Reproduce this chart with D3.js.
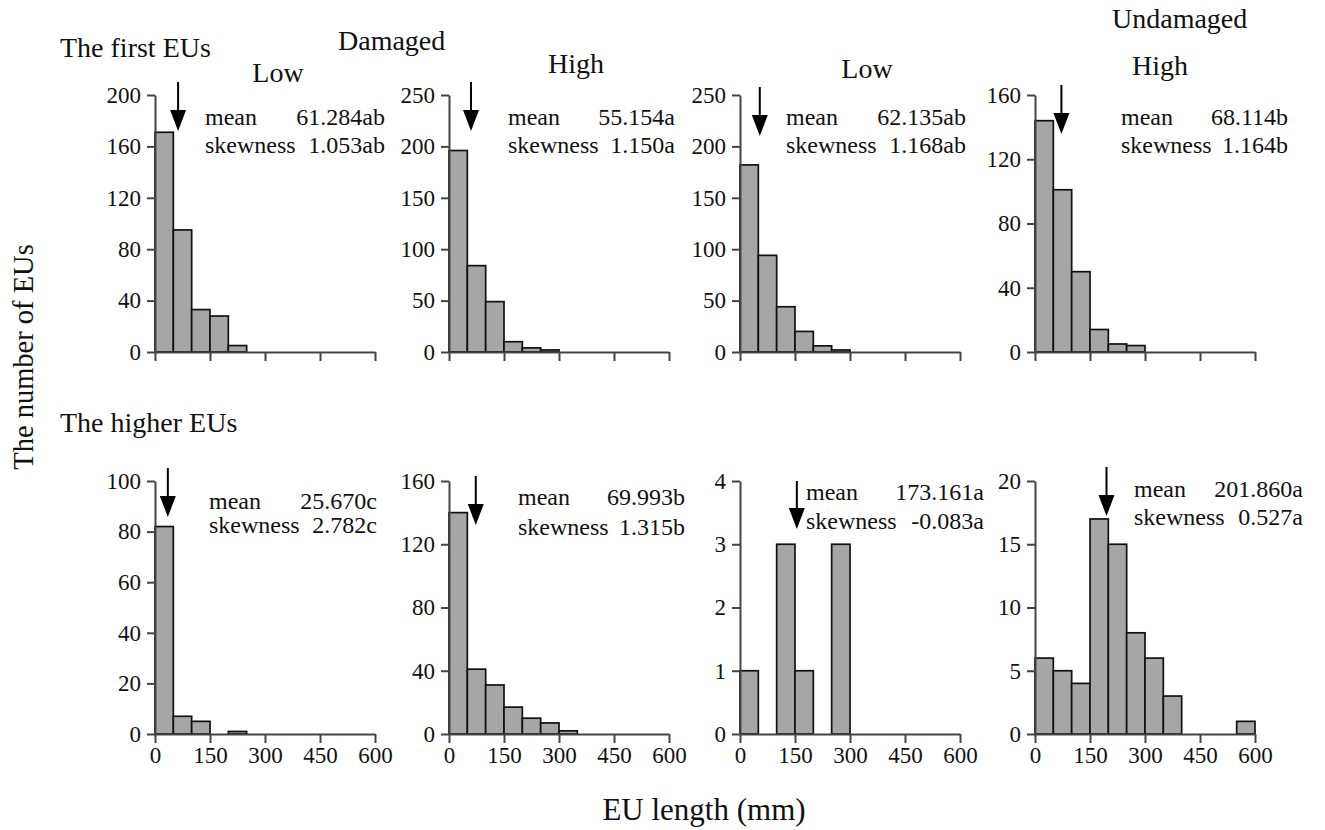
<!DOCTYPE html>
<html>
<head>
<meta charset="utf-8">
<script src="https://cdn.jsdelivr.net/npm/d3@7"></script>
<style>
  body { margin: 0; background: #fff; }
  text { font-family: "Liberation Serif", "Times New Roman", serif; fill: #111; }
</style>
</head>
<body>
<svg id="chart" width="1325" height="830"></svg>
<script>
// counts per 50 mm bin, starting at 0
var firstDamagedLow     = [171, 95, 33, 28, 5]
var firstDamagedHigh    = [196, 84, 49, 10, 4, 2]
var firstUndamagedLow   = [182, 94, 44, 20, 6, 2]
var firstUndamagedHigh  = [144, 101, 50, 14, 5, 4]
var higherDamagedLow    = [82, 7, 5, 0, 1]
var higherDamagedHigh   = [140, 41, 31, 17, 10, 7, 2]
var higherUndamagedLow  = [1, 0, 3, 1, 0, 3]
var higherUndamagedHigh = [6, 5, 4, 17, 15, 8, 6, 3, 0, 0, 0, 1]

var binWidth = 50
var xTicks = [0, 150, 300, 450, 600]
var yMax  = [200, 250, 250, 160, 100, 160, 4, 20]
var yStep = [40, 50, 50, 40, 20, 40, 1, 5]
var meanLabels = ["61.284ab", "55.154a", "62.135ab", "68.114b", "25.670c", "69.993b", "173.161a", "201.860a"]
var skewLabels = ["1.053ab", "1.150a", "1.168ab", "1.164b", "2.782c", "1.315b", "-0.083a", "0.527a"]
var arrowAt = [63, 60, 54, 72, 35, 73, 155, 195]

var series = [firstDamagedLow, firstDamagedHigh, firstUndamagedLow, firstUndamagedHigh,
              higherDamagedLow, higherDamagedHigh, higherUndamagedLow, higherUndamagedHigh]

// layout of each small panel (pixels)
var colX = [155, 449, 740, 1035]
var plotW = 220
var rows = [{top: 95, bottom: 352, labels: false}, {top: 481, bottom: 734, labels: true}]
var textOff = [[50, 230], [59, 226], [46, 226], [86, 253], [54, 222], [69, 236], [66, 244], [99, 268]]
var textY = [[125, 153], [125, 153], [125, 153], [125, 153], [509, 533], [505, 535], [500, 529], [497, 525]]
var arrowY = [[82, 131], [82, 131], [87, 136], [85, 134], [468, 517], [476, 525], [481, 529], [467, 516]]

var svg = d3.select("#chart")

var drawPanel = function(i)
{
    var row = rows[Math.floor(i / 4)]
    var x0 = colX[i % 4]
    var data = series[i]

    var x = d3.scaleLinear().domain([0, 600]).range([x0, x0 + plotW])
    var y = d3.scaleLinear().domain([0, yMax[i]]).range([row.bottom, row.top])

    var g = svg.append("g")

    g.selectAll("rect")
        .data(data)
        .enter()
        .append("rect")
        .attr("x", function(d, k) { return x(k * binWidth) })
        .attr("y", function(d) { return y(d) })
        .attr("width", function(d, k) { return x((k + 1) * binWidth) - x(k * binWidth) })
        .attr("height", function(d) { return y(0) - y(d) })
        .attr("fill", "#a6a6a6")
        .attr("stroke", "#111")
        .attr("stroke-width", 1.7)

    var xAxis = d3.axisBottom(x)
        .tickValues(xTicks)
        .tickSize(9)
        .tickSizeOuter(0)
        .tickPadding(4)
        .tickFormat(function(d) { return row.labels ? d : "" })
    var gx = g.append("g")
        .attr("transform", "translate(0," + row.bottom + ")")
        .call(xAxis)

    var yAxis = d3.axisLeft(y)
        .tickValues(d3.range(0, yMax[i] + yStep[i] / 2, yStep[i]))
        .tickFormat(d3.format("d"))
        .tickSize(8)
        .tickSizeOuter(0)
        .tickPadding(6)
    var gy = g.append("g")
        .attr("transform", "translate(" + x0 + ",0)")
        .call(yAxis)

    ;[gx, gy].forEach(function(a) {
        a.attr("font-family", null).attr("font-size", null)
        a.select(".domain").attr("stroke", "#444").attr("stroke-width", 2)
        a.selectAll(".tick line").attr("stroke", "#444").attr("stroke-width", 2)
        a.selectAll("text").style("font-size", "23px").attr("fill", "#111")
    })

    // mean arrow
    var ax = x(arrowAt[i])
    var top = arrowY[i][0], tip = arrowY[i][1]
    g.append("line")
        .attr("x1", ax).attr("x2", ax)
        .attr("y1", top).attr("y2", tip - 18)
        .attr("stroke", "#000").attr("stroke-width", 2)
    g.append("path")
        .attr("d", "M" + (ax - 8) + "," + (tip - 21) + "L" + (ax + 8) + "," + (tip - 21) + "L" + ax + "," + tip + "Z")
        .attr("fill", "#000")

    // mean / skewness annotation
    var tl = x0 + textOff[i][0], tr = x0 + textOff[i][1]
    var labels = [["mean", meanLabels[i]], ["skewness", skewLabels[i]]]
    labels.forEach(function(l, k) {
        g.append("text").attr("x", tl).attr("y", textY[i][k])
            .style("font-size", "24px").text(l[0])
        g.append("text").attr("x", tr).attr("y", textY[i][k])
            .attr("text-anchor", "end")
            .style("font-size", "24px").text(l[1])
    })
}

for (var i = 0; i < 8; i++) { drawPanel(i) }

// headings
var heading = function(txt, px, py, anchor)
{
    svg.append("text")
        .attr("x", px).attr("y", py)
        .attr("text-anchor", anchor || "start")
        .style("font-size", "28px")
        .text(txt)
}
heading("The first EUs", 60, 57)
heading("Damaged", 338, 50)
heading("Undamaged", 1112, 28)
heading("Low", 278, 82, "middle")
heading("High", 576, 73, "middle")
heading("Low", 867, 78, "middle")
heading("High", 1160, 75, "middle")
heading("The higher EUs", 60, 432)

svg.append("text")
    .attr("transform", "translate(33,357) rotate(-90)")
    .attr("text-anchor", "middle")
    .style("font-size", "28.5px")
    .text("The number of EUs")

svg.append("text")
    .attr("x", 704).attr("y", 820)
    .attr("text-anchor", "middle")
    .style("font-size", "31px")
    .text("EU length (mm)")
</script>
</body>
</html>
